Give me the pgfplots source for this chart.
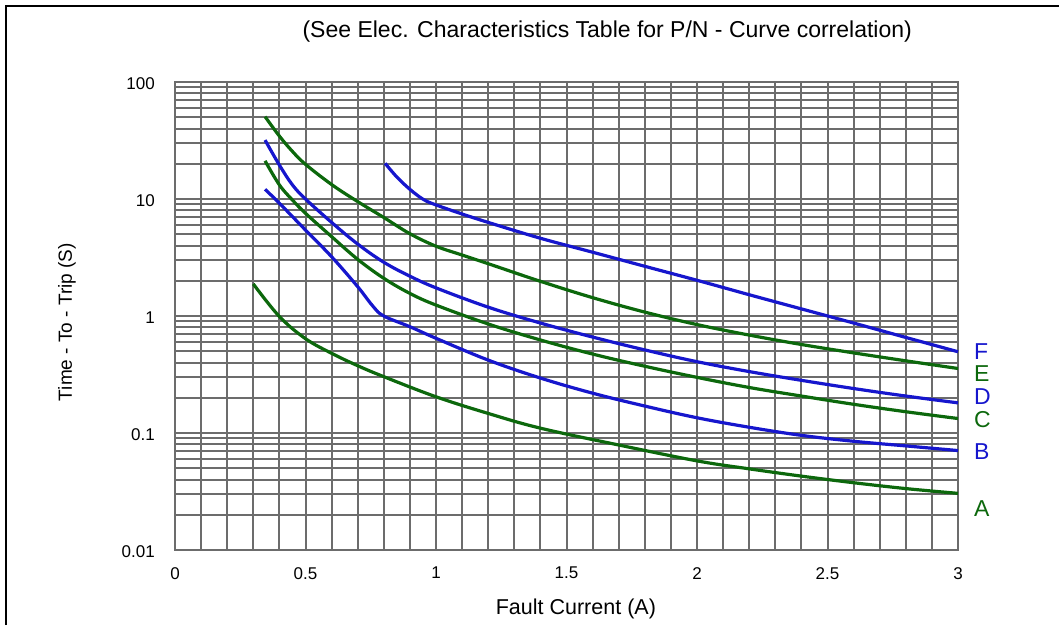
\documentclass[border=0pt]{standalone}
\usepackage{fontspec}
\setmainfont{Liberation Sans}
\usepackage{pgfplots}
\pgfplotsset{compat=1.18}
\definecolor{gridgray}{RGB}{108,108,108}
\definecolor{curvegreen}{RGB}{12,104,12}
\definecolor{curveblue}{RGB}{22,22,205}

\begin{document}
\begin{tikzpicture}
\path[use as bounding box] (0,0) rectangle (1059pt,625pt);
% frame (only left and top edges are visible)
\draw[line width=2pt] (6pt,0) -- (6pt,619pt) -- (1059pt,619pt);
\begin{axis}[
    at={(175pt,75pt)}, anchor=south west,
    scale only axis, width=783pt, height=468pt,
    xmin=0, xmax=3,
    ymode=log, ymin=0.01, ymax=100,
    xtick={0,0.5,1,1.5,2,2.5,3},
    xticklabels={0,0.5,1,1.5,2,2.5,3},
    minor x tick num=4,
    ytick={0.01,0.1,1,10,100},
    yticklabels={0.01,0.1,1,10,100},
    minor ytick={0.02,0.03,0.04,0.05,0.06,0.07,0.08,0.09,
                 0.2,0.3,0.4,0.5,0.6,0.7,0.8,0.9,
                 2,3,4,5,6,7,8,9,
                 20,30,40,50,60,70,80,90},
    grid=both,
    grid style={draw=gridgray, line width=2pt},
    minor grid style={draw=gridgray, line width=2pt},
    major tick length=0pt, minor tick length=0pt,
    axis line style={draw=gridgray, line width=2pt},
    xticklabel style={font=\fontsize{17}{20}\selectfont, inner sep=0pt, yshift=-17pt},
    yticklabel style={font=\fontsize{17}{20}\selectfont, inner sep=0pt, xshift=-20pt, yshift=-2pt},
    xlabel={Fault Current (A)},
    xlabel style={font=\fontsize{21.5}{25}\selectfont, at={(axis description cs:0.512,-0.126)}, anchor=center},
    ylabel={Time - To - Trip (S)},
    ylabel style={font=\fontsize{19}{23}\selectfont, at={(axis description cs:-0.138,0.487)}, anchor=center, rotate=0},
    title={(See Elec. Characteristics Table for P/N - Curve correlation)},
    title style={font=\fontsize{23}{27}\selectfont, at={(axis description cs:0.552,1.096)}, anchor=center},
    clip=false,
    every axis plot/.append style={line width=3.2pt, smooth, tension=0.6},
]
% A
\addplot[curvegreen] coordinates {(0.3,1.88) (0.4,0.99) (0.5,0.64) (0.6,0.48) (0.7,0.376) (0.8,0.303) (1.0,0.204) (1.2,0.147) (1.4,0.110) (1.7,0.079) (2.0,0.0578) (2.2,0.0494) (2.4,0.0428) (2.6,0.0376) (2.8,0.0335) (3.0,0.0305)};
% B
\addplot[curveblue] coordinates {(0.345,12.1) (0.4,9.2) (0.5,5.43) (0.6,3.21) (0.7,1.78) (0.76,1.2) (0.8,1.0) (0.9,0.81) (1.0,0.645) (1.2,0.42) (1.4,0.295) (1.6,0.219) (1.8,0.170) (2.0,0.135) (2.2,0.112) (2.4,0.0955) (2.6,0.085) (2.8,0.0776) (3.0,0.0708)};
% C
\addplot[curvegreen] coordinates {(0.345,21.2) (0.4,13.2) (0.45,9.8) (0.5,7.55) (0.6,4.77) (0.7,3.05) (0.8,2.10) (0.9,1.56) (1.0,1.24) (1.2,0.855) (1.4,0.624) (1.6,0.473) (1.8,0.372) (2.0,0.299) (2.2,0.245) (2.4,0.207) (2.6,0.176) (2.8,0.152) (3.0,0.133)};
% D
\addplot[curveblue] coordinates {(0.345,31.9) (0.4,19.5) (0.45,13.2) (0.5,10.0) (0.6,6.31) (0.7,4.12) (0.8,2.88) (0.9,2.19) (1.0,1.74) (1.2,1.19) (1.4,0.871) (1.6,0.661) (1.8,0.513) (2.0,0.407) (2.2,0.335) (2.4,0.282) (2.6,0.240) (2.8,0.207) (3.0,0.181)};
% E
\addplot[curvegreen] coordinates {(0.345,50.6) (0.4,34.5) (0.45,25.5) (0.5,19.8) (0.6,13.3) (0.7,9.5) (0.8,6.95) (0.9,5.05) (1.0,3.95) (1.1,3.32) (1.2,2.80) (1.4,1.98) (1.6,1.435) (1.8,1.08) (2.0,0.845) (2.2,0.687) (2.4,0.571) (2.6,0.484) (2.8,0.414) (3.0,0.356)};
% F
\addplot[curveblue] coordinates {(0.805,20.2) (0.849,15.5) (0.9,12.1) (0.951,9.94) (1.0,8.9) (1.1,7.45) (1.2,6.31) (1.4,4.62) (1.6,3.51) (1.8,2.66) (2.0,2.02) (2.2,1.52) (2.4,1.15) (2.6,0.871) (2.8,0.656) (3.0,0.495)};

\begin{scope}[every node/.style={anchor=west, inner sep=0pt, font=\fontsize{23}{27}\selectfont}]
\node[text=curveblue]  at (axis cs:3,0.497) [xshift=16pt] {F};
\node[text=curvegreen] at (axis cs:3,0.323) [xshift=16pt] {E};
\node[text=curveblue]  at (axis cs:3,0.203) [xshift=16pt] {D};
\node[text=curvegreen] at (axis cs:3,0.130) [xshift=16pt] {C};
\node[text=curveblue]  at (axis cs:3,0.070) [xshift=16pt] {B};
\node[text=curvegreen] at (axis cs:3,0.0224) [xshift=16pt] {A};
\end{scope}
\end{axis}
\end{tikzpicture}
\end{document}
